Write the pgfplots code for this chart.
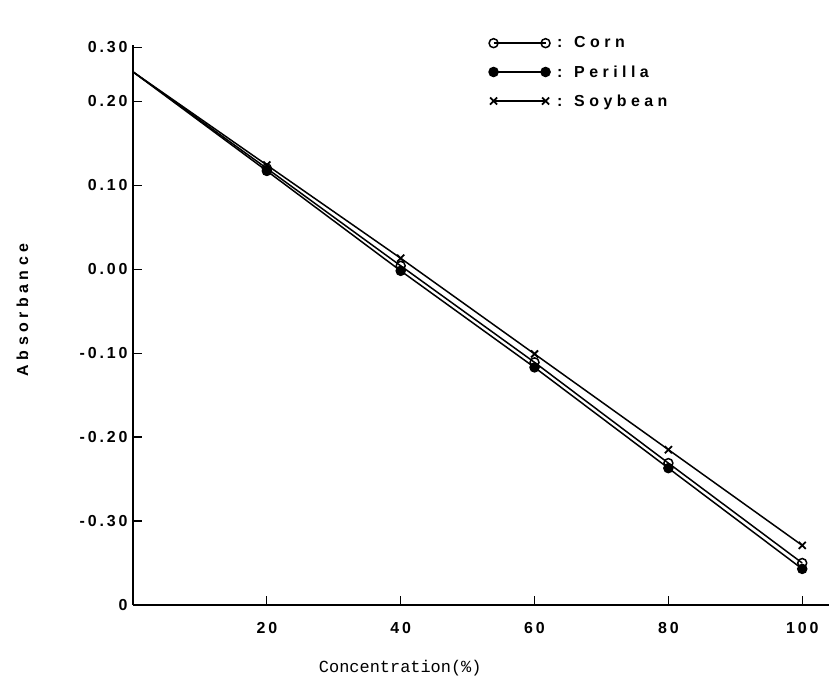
\documentclass[border=0pt]{standalone}
\usepackage{pgfplots}
\pgfplotsset{compat=1.18}
\usepackage{fontspec}
\setmainfont{Liberation Sans}
\newfontfamily\tickfont[LetterSpace=18]{Liberation Sans Bold}
\newfontfamily\legfont[LetterSpace=28]{Liberation Sans Bold}
\newfontfamily\labfont{Liberation Mono}

\begin{document}
\begin{tikzpicture}
\begin{axis}[
  at={(0,0)}, anchor=south west,
  scale only axis, width=696bp, height=560bp,
  xmin=0, xmax=104, ymin=-0.40, ymax=0.267,
  axis lines=left,
  axis line style={-, line width=1.5bp},
  xtick={20,40,60,80,100}, xticklabels={20,40,60,80,100},
  ytick={-0.4,-0.3,-0.2,-0.1,0,0.1,0.2,0.264},
  yticklabels={0,-0.30,-0.20,-0.10,0.00,0.10,0.20,0.30},
  tick align=inside, major tick length=9bp,
  tick style={black, line width=1.2bp},
  ticklabel style={font=\tickfont\fontsize{16}{19}\selectfont},
  xticklabel style={yshift=-14bp},
  yticklabel style={xshift=-2bp},
  xlabel={\labfont\fontsize{17}{19}\selectfont Concentration(\%)},
  ylabel={\legfont\fontsize{16}{19}\selectfont Absorbance},
  xlabel style={at={(axis description cs:0.384,-0.1125)}, anchor=center},
  ylabel style={at={(axis description cs:-0.159,0.527)}, anchor=center},
  clip=false,
  legend cell align=left,
  legend style={draw=none, fill=none, at={(rel axis cs:0.507,1.022)}, anchor=north west,
    font=\legfont\fontsize{16}{19}\selectfont, row sep=12bp},
  legend image code/.code={\draw[#1] plot coordinates {(0bp,0bp) (52bp,0bp)};},
]
\addplot[black, line width=1.5bp, forget plot] coordinates {(0,0.235) (20,0.120)};
\addplot[black, line width=1.5bp, forget plot] coordinates {(0,0.235) (20,0.117)};
\addplot[black, line width=1.5bp, forget plot] coordinates {(0,0.235) (20,0.124)};
\addplot[black, line width=1.5bp, mark=o, mark size=4.5bp, mark options={solid, fill=white}]
  coordinates {(20,0.120) (40,0.004) (60,-0.111) (80,-0.231) (100,-0.350)};
\addlegendentry{\hspace{5bp}: Corn}
\addplot[black, line width=1.5bp, mark=*, mark size=4.5bp, mark options={solid, fill=black}]
  coordinates {(20,0.117) (40,-0.002) (60,-0.117) (80,-0.237) (100,-0.357)};
\addlegendentry{\hspace{5bp}: Perilla}
\addplot[black, line width=1.5bp, mark=x, mark size=5bp, mark options={solid, line width=1.8bp}]
  coordinates {(20,0.124) (40,0.013) (60,-0.101) (80,-0.215) (100,-0.329)};
\addlegendentry{\hspace{5bp}: Soybean}
\end{axis}
\pgfresetboundingbox
\path[use as bounding box] (-133bp,-90bp) rectangle (696bp,605bp);
\end{tikzpicture}
\end{document}
